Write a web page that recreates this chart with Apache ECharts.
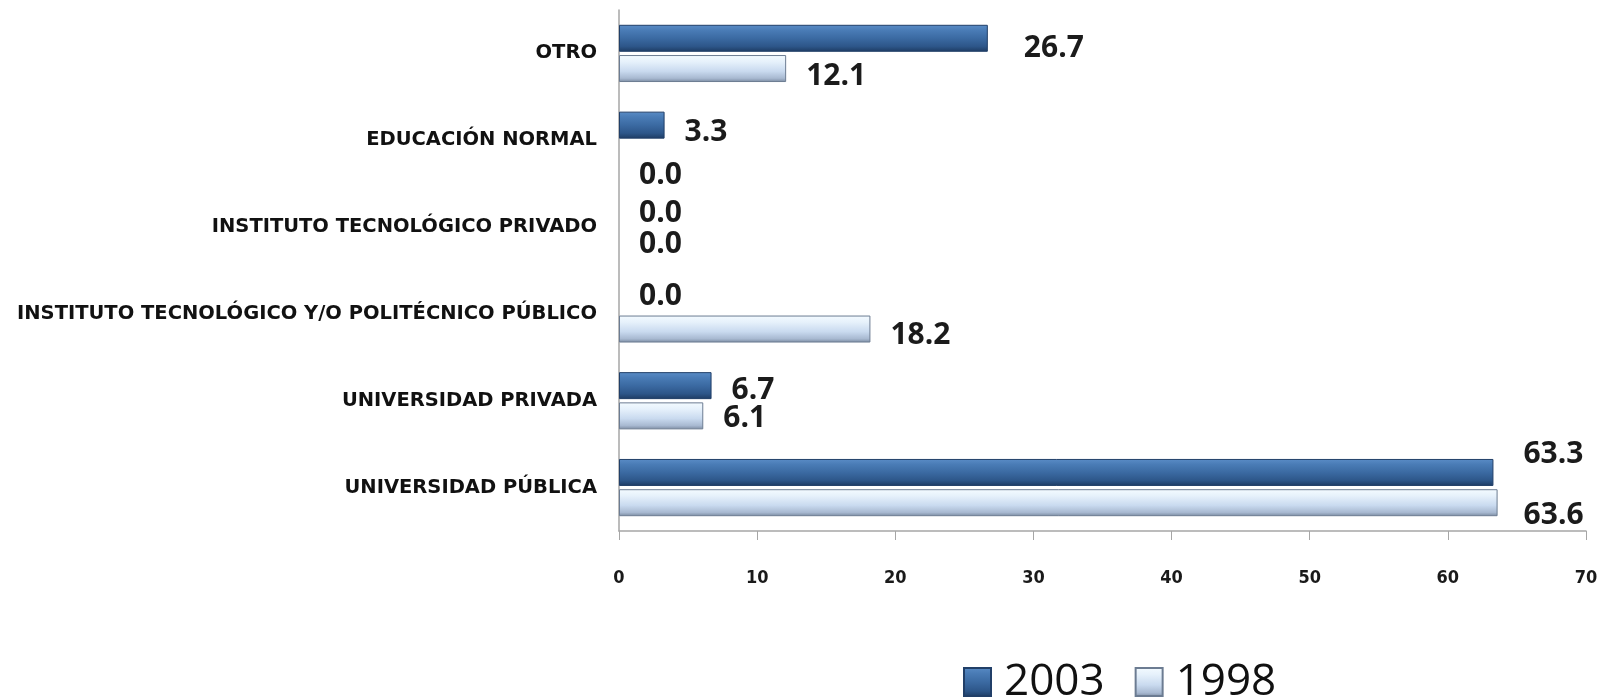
<!DOCTYPE html>
<html>
<head>
<meta charset="utf-8">
<script src="https://cdn.jsdelivr.net/npm/echarts@6/dist/echarts.min.js"></script>
<style>
  html, body { margin: 0; padding: 0; background: #fff; }
  #chart { width: 1610px; height: 697px; }
</style>
</head>
<body>
<div id="chart"></div>
<script>
// categories listed top to bottom (axis is inverted)
const categories = [
    "OTRO",
    "EDUCACIÓN NORMAL",
    "INSTITUTO TECNOLÓGICO PRIVADO",
    "INSTITUTO TECNOLÓGICO Y/O POLITÉCNICO PÚBLICO",
    "UNIVERSIDAD PRIVADA",
    "UNIVERSIDAD PÚBLICA"
];
const values2003 = [26.7, 3.3, 0.0, 0.0, 6.7, 63.3];
const values1998 = [12.1, 0.0, 0.0, 18.2, 6.1, 63.6];
const xTicks = [0, 10, 20, 30, 40, 50, 60, 70];

// label nudges so the numbers sit where the original put them
const nudge2003 = [[16, 10], [0, 7], [0, 1], [0, -2], [0, 5], [10, -18]];
const nudge1998 = [[0, 8], [0, 20], [0, 2], [0, 6], [0, 3], [6, 13]];

const grad = (stops) => new echarts.graphic.LinearGradient(0, 0, 0, 1,
    stops.map(([offset, color]) => ({ offset, color })));

const style2003 = {
    color: grad([[0, '#5a8cc6'], [0.2, '#4a7cb6'], [0.5, '#3b6aa2'], [0.8, '#2d5689'], [1, '#1d3b62']]),
    borderColor: '#213f68',
    borderWidth: 1
};
const style1998 = {
    color: grad([[0, '#f4fbff'], [0.25, '#e6f1fb'], [0.6, '#c9daef'], [0.86, '#a8b9d1'], [1, '#7a8aa0']]),
    borderColor: '#6c7c92',
    borderWidth: 1
};

const labelFont = {
    fontFamily: 'Open Sans',
    fontWeight: 'bold',
    fontSize: 30,
    color: '#1b1b1b'
};

const buildData = (values, nudges) => values.map((v, i) => ({
    value: v,
    itemStyle: v === 0 ? { borderWidth: 0 } : undefined,
    label: { offset: nudges[i] }
}));

const chart = echarts.init(document.getElementById('chart'));

chart.setOption({
    animation: false,
    grid: { left: 619, right: 24, top: 10, bottom: 166, containLabel: false },
    legend: {
        left: 958,
        top: 655,
        icon: 'rect',
        itemWidth: 27,
        itemHeight: 28,
        itemGap: 30,
        textStyle: { fontFamily: 'Open Sans', fontSize: 44, color: '#111', padding: [0, 0, 0, 8] },
        data: ['2003', '1998']
    },
    xAxis: {
        type: 'value',
        min: xTicks[0],
        max: xTicks[xTicks.length - 1],
        interval: 10,
        splitLine: { show: false },
        axisLine: { show: true, lineStyle: { color: '#a6a6a6', width: 1.5 } },
        axisTick: { show: true, length: 9, lineStyle: { color: '#a6a6a6' } },
        axisLabel: {
            margin: 38,
            fontFamily: 'DejaVu Sans Condensed',
            fontWeight: 'bold',
            fontSize: 18,
            color: '#1a1a1a'
        }
    },
    yAxis: {
        type: 'category',
        inverse: true,
        data: categories,
        axisLine: { show: true, lineStyle: { color: '#a6a6a6', width: 1.5 } },
        axisTick: { show: false },
        axisLabel: {
            margin: 22,
            fontFamily: 'DejaVu Sans',
            fontWeight: 'bold',
            fontSize: 19.5,
            color: '#111'
        }
    },
    series: [
        {
            name: '2003',
            type: 'bar',
            barWidth: 27,
            barGap: '12%',
            itemStyle: style2003,
            label: Object.assign({ show: true, position: 'right', distance: 20, formatter: (p) => p.value.toFixed(1) }, labelFont),
            data: buildData(values2003, nudge2003)
        },
        {
            name: '1998',
            type: 'bar',
            barWidth: 27,
            barGap: '12%',
            itemStyle: style1998,
            label: Object.assign({ show: true, position: 'right', distance: 20, formatter: (p) => p.value.toFixed(1) }, labelFont),
            data: buildData(values1998, nudge1998)
        }
    ]
});
</script>
</body>
</html>
